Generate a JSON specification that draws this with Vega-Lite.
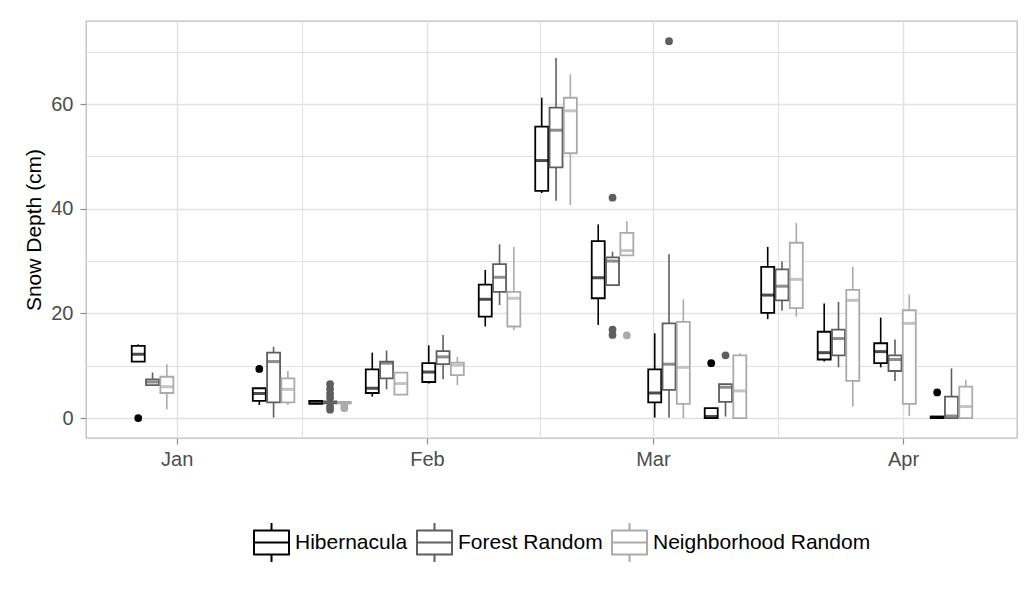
{
  "$schema": "https://vega.github.io/schema/vega-lite/v6.json",
  "width": 931,
  "height": 417,
  "autosize": {"type": "none"},
  "padding": {"left": 86, "top": 21, "right": 16, "bottom": 154},
  "background": "white",
  "config": {
    "font": "Liberation Sans",
    "view": {"stroke": "#bdbdbd", "strokeWidth": 1.3},
    "axis": {"gridColor": "#e1e1e1", "domain": false, "tickColor": "#8c8c8c", "tickWidth": 1.2, "labelColor": "#4d4d4d", "labelFont": "Liberation Sans", "titleFont": "Liberation Sans", "titleFontWeight": "normal", "titleColor": "#000000"}
  },
  "datasets": {
    "stats": [
      {"date": "2014-12-29", "group": "Hibernacula", "lo": 10.8, "q1": 10.8, "med": 12.2, "q3": 13.8, "hi": 14.1},
      {"date": "2014-12-29", "group": "Forest Random", "lo": 6.3, "q1": 6.3, "med": 6.9, "q3": 7.4, "hi": 8.7},
      {"date": "2014-12-29", "group": "Neighborhood Random", "lo": 1.7, "q1": 4.8, "med": 6.0, "q3": 7.9, "hi": 10.3},
      {"date": "2015-01-13", "group": "Hibernacula", "lo": 2.5, "q1": 3.3, "med": 4.7, "q3": 5.7, "hi": 5.7},
      {"date": "2015-01-13", "group": "Forest Random", "lo": 0.1, "q1": 3.0, "med": 10.8, "q3": 12.5, "hi": 13.6},
      {"date": "2015-01-13", "group": "Neighborhood Random", "lo": 2.5, "q1": 3.0, "med": 5.5, "q3": 7.6, "hi": 9.0},
      {"date": "2015-01-20", "group": "Hibernacula", "lo": 2.6, "q1": 2.7, "med": 3.0, "q3": 3.3, "hi": 3.4},
      {"date": "2015-01-20", "group": "Forest Random", "lo": 2.8, "q1": 2.8, "med": 3.0, "q3": 3.2, "hi": 3.2},
      {"date": "2015-01-20", "group": "Neighborhood Random", "lo": 2.8, "q1": 2.8, "med": 2.95, "q3": 3.1, "hi": 3.1},
      {"date": "2015-01-27", "group": "Hibernacula", "lo": 4.1, "q1": 4.8, "med": 5.7, "q3": 9.3, "hi": 12.5},
      {"date": "2015-01-27", "group": "Forest Random", "lo": 5.5, "q1": 7.6, "med": 10.5, "q3": 10.8, "hi": 12.9},
      {"date": "2015-01-27", "group": "Neighborhood Random", "lo": 4.5, "q1": 4.5, "med": 6.6, "q3": 8.7, "hi": 8.7},
      {"date": "2015-02-03", "group": "Hibernacula", "lo": 6.6, "q1": 6.9, "med": 8.8, "q3": 10.5, "hi": 13.9},
      {"date": "2015-02-03", "group": "Forest Random", "lo": 7.4, "q1": 10.3, "med": 11.7, "q3": 12.8, "hi": 15.9},
      {"date": "2015-02-03", "group": "Neighborhood Random", "lo": 6.3, "q1": 8.2, "med": 10.1, "q3": 10.6, "hi": 11.7},
      {"date": "2015-02-10", "group": "Hibernacula", "lo": 17.5, "q1": 19.4, "med": 22.7, "q3": 25.5, "hi": 28.3},
      {"date": "2015-02-10", "group": "Forest Random", "lo": 21.6, "q1": 24.1, "med": 26.9, "q3": 29.4, "hi": 33.2},
      {"date": "2015-02-10", "group": "Neighborhood Random", "lo": 16.8, "q1": 17.5, "med": 22.9, "q3": 24.1, "hi": 32.7},
      {"date": "2015-02-17", "group": "Hibernacula", "lo": 43.0, "q1": 43.4, "med": 49.2, "q3": 55.7, "hi": 61.2},
      {"date": "2015-02-17", "group": "Forest Random", "lo": 41.5, "q1": 47.9, "med": 55.0, "q3": 59.3, "hi": 68.8},
      {"date": "2015-02-17", "group": "Neighborhood Random", "lo": 40.7, "q1": 50.6, "med": 58.7, "q3": 61.2, "hi": 65.7},
      {"date": "2015-02-24", "group": "Hibernacula", "lo": 17.8, "q1": 22.9, "med": 26.8, "q3": 33.8, "hi": 37.0},
      {"date": "2015-02-24", "group": "Forest Random", "lo": 25.4, "q1": 25.4, "med": 30.0, "q3": 30.7, "hi": 31.8},
      {"date": "2015-02-24", "group": "Neighborhood Random", "lo": 31.1, "q1": 31.1, "med": 32.0, "q3": 35.4, "hi": 37.6},
      {"date": "2015-03-03", "group": "Hibernacula", "lo": 0.1, "q1": 3.0, "med": 4.8, "q3": 9.3, "hi": 16.2},
      {"date": "2015-03-03", "group": "Forest Random", "lo": 0.1, "q1": 5.4, "med": 10.3, "q3": 18.1, "hi": 31.3},
      {"date": "2015-03-03", "group": "Neighborhood Random", "lo": 0.0, "q1": 2.7, "med": 9.7, "q3": 18.4, "hi": 22.7},
      {"date": "2015-03-10", "group": "Hibernacula", "lo": 0.0, "q1": 0.0, "med": 0.3, "q3": 1.9, "hi": 1.9},
      {"date": "2015-03-10", "group": "Forest Random", "lo": 0.3, "q1": 3.1, "med": 5.9, "q3": 6.5, "hi": 6.6},
      {"date": "2015-03-10", "group": "Neighborhood Random", "lo": 0.0, "q1": 0.0, "med": 5.2, "q3": 12.0, "hi": 12.4},
      {"date": "2015-03-17", "group": "Hibernacula", "lo": 18.9, "q1": 20.1, "med": 23.5, "q3": 28.9, "hi": 32.7},
      {"date": "2015-03-17", "group": "Forest Random", "lo": 20.5, "q1": 22.5, "med": 25.2, "q3": 28.4, "hi": 29.9},
      {"date": "2015-03-17", "group": "Neighborhood Random", "lo": 19.4, "q1": 21.0, "med": 26.5, "q3": 33.5, "hi": 37.3},
      {"date": "2015-03-24", "group": "Hibernacula", "lo": 10.8, "q1": 11.2, "med": 12.5, "q3": 16.5, "hi": 21.9},
      {"date": "2015-03-24", "group": "Forest Random", "lo": 9.7, "q1": 12.0, "med": 15.2, "q3": 16.9, "hi": 22.2},
      {"date": "2015-03-24", "group": "Neighborhood Random", "lo": 2.2, "q1": 7.1, "med": 22.5, "q3": 24.5, "hi": 28.9},
      {"date": "2015-03-31", "group": "Hibernacula", "lo": 9.7, "q1": 10.5, "med": 12.7, "q3": 14.3, "hi": 19.2},
      {"date": "2015-03-31", "group": "Forest Random", "lo": 7.1, "q1": 9.0, "med": 11.2, "q3": 12.0, "hi": 15.0},
      {"date": "2015-03-31", "group": "Neighborhood Random", "lo": 0.4, "q1": 2.7, "med": 18.1, "q3": 20.6, "hi": 23.6},
      {"date": "2015-04-07", "group": "Hibernacula", "lo": 0.0, "q1": 0.0, "med": 0.15, "q3": 0.3, "hi": 0.3},
      {"date": "2015-04-07", "group": "Forest Random", "lo": 0.0, "q1": 0.0, "med": 0.4, "q3": 4.1, "hi": 9.5},
      {"date": "2015-04-07", "group": "Neighborhood Random", "lo": 0.0, "q1": 0.0, "med": 2.2, "q3": 6.0, "hi": 7.3}
    ],
    "outliers": [
      {"date": "2014-12-29", "group": "Hibernacula", "value": 0.0},
      {"date": "2015-01-13", "group": "Hibernacula", "value": 9.4},
      {"date": "2015-01-20", "group": "Forest Random", "value": 6.5},
      {"date": "2015-01-20", "group": "Forest Random", "value": 5.6},
      {"date": "2015-01-20", "group": "Forest Random", "value": 4.7},
      {"date": "2015-01-20", "group": "Forest Random", "value": 3.9},
      {"date": "2015-01-20", "group": "Forest Random", "value": 2.2},
      {"date": "2015-01-20", "group": "Forest Random", "value": 1.6},
      {"date": "2015-01-20", "group": "Neighborhood Random", "value": 2.3},
      {"date": "2015-01-20", "group": "Neighborhood Random", "value": 1.9},
      {"date": "2015-02-24", "group": "Forest Random", "value": 42.1},
      {"date": "2015-02-24", "group": "Forest Random", "value": 16.9},
      {"date": "2015-02-24", "group": "Forest Random", "value": 15.9},
      {"date": "2015-02-24", "group": "Neighborhood Random", "value": 15.8},
      {"date": "2015-03-03", "group": "Forest Random", "value": 72.0},
      {"date": "2015-03-10", "group": "Hibernacula", "value": 10.5},
      {"date": "2015-03-10", "group": "Forest Random", "value": 12.0},
      {"date": "2015-04-07", "group": "Hibernacula", "value": 4.9}
    ]
  },
  "encoding": {
    "x": {
      "field": "date",
      "type": "temporal",
      "title": null,
      "scale": {
        "type": "utc",
        "domain": [
          {"year": 2014, "month": 12, "date": 21, "hours": 9, "utc": true},
          {"year": 2015, "month": 4, "date": 14, "hours": 12, "utc": true}
        ]
      },
      "axis": {
        "values": [
          {"year": 2015, "month": 1, "date": 1, "utc": true},
          {"year": 2015, "month": 1, "date": 16, "hours": 12, "utc": true},
          {"year": 2015, "month": 2, "date": 1, "utc": true},
          {"year": 2015, "month": 2, "date": 15, "utc": true},
          {"year": 2015, "month": 3, "date": 1, "utc": true},
          {"year": 2015, "month": 3, "date": 16, "hours": 12, "utc": true},
          {"year": 2015, "month": 4, "date": 1, "utc": true}
        ],
        "labelExpr": "utcdate(datum.value) == 1 ? utcFormat(datum.value, '%b') : ''",
        "tickOpacity": {"condition": {"test": "utcdate(datum.value) != 1", "value": 0}, "value": 1},
        "gridWidth": {"condition": {"test": "utcdate(datum.value) != 1", "value": 1.1}, "value": 1.5},
        "tickSize": 6,
        "labelPadding": 5,
        "labelFontSize": 20
      }
    }
  },
  "layer": [
    {
      "data": {"name": "stats"},
      "mark": {"type": "bar", "fill": "white", "strokeWidth": 1.8, "size": 13,
               "xOffset": {"expr": "datum.group === 'Hibernacula' ? -14.3 : (datum.group === 'Forest Random' ? 0 : 14.3)"}},
      "encoding": {
        "y": {
          "field": "q1",
          "type": "quantitative",
          "title": "Snow Depth (cm)",
          "scale": {"domain": [-3.8, 75.86], "nice": false, "zero": false},
          "axis": {
            "values": [0, 10, 20, 30, 40, 50, 60, 70],
            "labelExpr": "datum.value % 20 == 0 ? datum.label : ''",
            "tickOpacity": {"condition": {"test": "datum.value % 20 != 0", "value": 0}, "value": 1},
            "gridWidth": {"condition": {"test": "datum.value % 20 != 0", "value": 1.1}, "value": 1.5},
            "tickSize": 6,
            "labelPadding": 7,
            "labelFontSize": 20,
            "titleFontSize": 21,
            "titlePadding": 6
          }
        },
        "y2": {"field": "q3"},
        "stroke": {
          "field": "group",
          "type": "nominal",
          "scale": {"domain": ["Hibernacula", "Forest Random", "Neighborhood Random"], "range": ["#000000", "#5e5e5e", "#ababab"]},
          "legend": {
            "title": null,
            "orient": "none",
            "legendX": 167,
            "legendY": 503,
            "direction": "horizontal",
            "symbolType": "M-1.03,-0.69H1.03 M1,-0.72V0.72 M1.03,0.69H-1.03 M-1,0.72V-0.72 M-1,0H1 M0,-0.69V-1.11 M0,0.69V1.11",
            "symbolSize": 1225,
            "symbolStrokeWidth": 2,
            "symbolFillColor": "white",
            "labelFontSize": 21,
            "labelColor": "#000000",
            "labelFont": "Liberation Sans",
            "labelLimit": 400,
            "labelOffset": 5,
            "columnPadding": 4
          }
        }
      }
    },
    {
      "data": {"name": "stats"},
      "mark": {"type": "rule", "strokeWidth": 1.6,
               "xOffset": {"expr": "datum.group === 'Hibernacula' ? -14.3 : (datum.group === 'Forest Random' ? 0 : 14.3)"}},
      "encoding": {
        "y": {"field": "lo", "type": "quantitative", "title": "Snow Depth (cm)"},
        "y2": {"field": "q1"},
        "stroke": {"field": "group", "type": "nominal"}
      }
    },
    {
      "data": {"name": "stats"},
      "mark": {"type": "rule", "strokeWidth": 1.6,
               "xOffset": {"expr": "datum.group === 'Hibernacula' ? -14.3 : (datum.group === 'Forest Random' ? 0 : 14.3)"}},
      "encoding": {
        "y": {"field": "q3", "type": "quantitative", "title": "Snow Depth (cm)"},
        "y2": {"field": "hi"},
        "stroke": {"field": "group", "type": "nominal"}
      }
    },
    {
      "data": {"name": "stats"},
      "mark": {"type": "tick", "orient": "horizontal", "thickness": 3, "size": 13,
               "xOffset": {"expr": "datum.group === 'Hibernacula' ? -14.3 : (datum.group === 'Forest Random' ? 0 : 14.3)"}},
      "encoding": {
        "y": {"field": "med", "type": "quantitative", "title": "Snow Depth (cm)"},
        "fill": {
          "field": "group",
          "type": "nominal",
          "scale": {"domain": ["Hibernacula", "Forest Random", "Neighborhood Random"], "range": ["#000000", "#5e5e5e", "#ababab"]},
          "legend": null
        }
      }
    },
    {
      "data": {"name": "outliers"},
      "mark": {"type": "circle", "size": 60, "opacity": 1,
               "xOffset": {"expr": "datum.group === 'Hibernacula' ? -14.3 : (datum.group === 'Forest Random' ? 0 : 14.3)"}},
      "encoding": {
        "y": {"field": "value", "type": "quantitative", "title": "Snow Depth (cm)"},
        "fill": {"field": "group", "type": "nominal", "legend": null}
      }
    }
  ]
}
